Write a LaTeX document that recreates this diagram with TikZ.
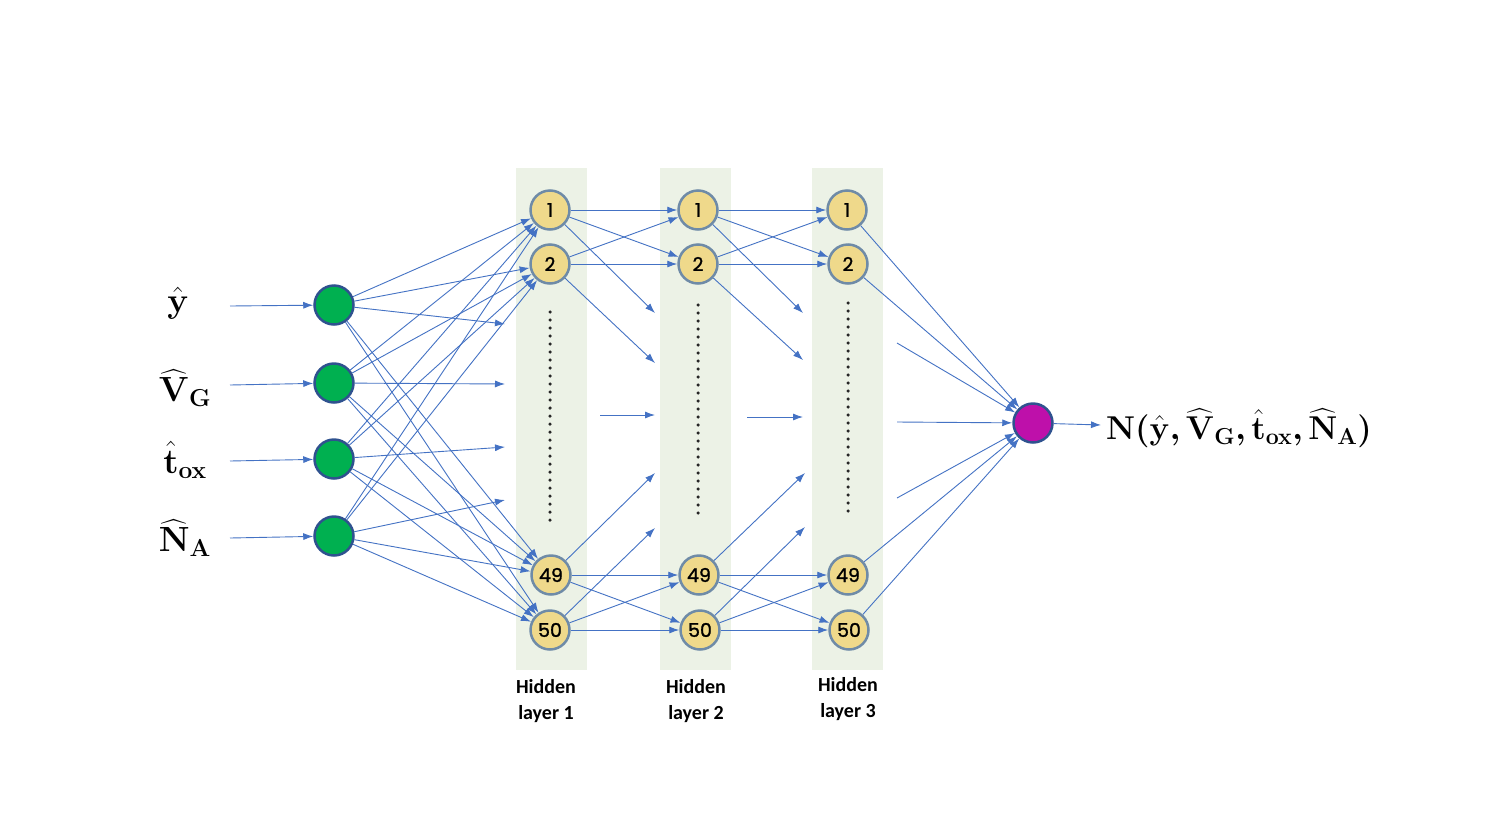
\documentclass[tikz,border=0pt]{standalone}
\usepackage{fix-cm}
\usepackage{amsmath,bm}
\usepackage{fontspec}
\newfontfamily\numfont[FakeBold=1.2]{Poppins}
\newfontfamily\labfont{Carlito}
\usetikzlibrary{arrows.meta}
\definecolor{edgeblue}{HTML}{4472C4}
\definecolor{ingreen}{HTML}{00B050}
\definecolor{inborder}{HTML}{2F528F}
\definecolor{hidfill}{HTML}{EFD98B}
\definecolor{hidborder}{HTML}{6F8BA7}
\definecolor{outmag}{HTML}{BE10AA}
\definecolor{colbg}{HTML}{ECF2E6}
\pgfdeclarelayer{bg}
\pgfdeclarelayer{edges}
\pgfsetlayers{bg,edges,main}
\tikzset{
  inp/.style={circle, minimum size=39pt, inner sep=0pt, fill=ingreen, draw=inborder, line width=2.5pt},
  outp/.style={circle, minimum size=39pt, inner sep=0pt, fill=outmag, draw=inborder, line width=2.5pt},
  hid/.style={circle, minimum size=39pt, inner sep=0pt, fill=hidfill, draw=hidborder, line width=2.5pt, font=\numfont\fontsize{19}{19}\selectfont},
  conn/.style={draw=edgeblue, line width=0.9pt, -{Latex[length=10pt,width=7pt]}},
  colbox/.style={fill=colbg, draw=none},
  dotcol/.style={line width=3.5pt, line cap=round, dash pattern=on 0pt off 8pt, draw=black!85},
  mathlab/.style={font=\fontsize{35}{40}\selectfont, inner sep=0pt},
  hlab/.style={font=\labfont\bfseries\fontsize{20}{26}\selectfont, align=center, inner sep=0pt}
}
\begin{document}
\begin{tikzpicture}[x=1pt,y=-1pt]
\useasboundingbox (0,0) rectangle (1512,833);
\begin{pgfonlayer}{bg}
\fill[white] (0,0) rectangle (1512,833);
\path[colbox] (516,168) rectangle (587,670);
\path[colbox] (660,168) rectangle (731,670);
\path[colbox] (812,168) rectangle (883,670);
\end{pgfonlayer}
% dots
\draw[dotcol] (550,312) -- (550,520);
\draw[dotcol] (698,305) -- (698,515);
\draw[dotcol] (848,303) -- (848,512);
% input nodes
\node[inp] (i1) at (334,305) {};
\node[inp] (i2) at (334,383) {};
\node[inp] (i3) at (334,459) {};
\node[inp] (i4) at (334,536) {};
% hidden layer 1
\node[hid] (a1) at (550,210) {1};
\node[hid] (a2) at (550,264) {2};
\node[hid] (a3) at (551,575) {49};
\node[hid] (a4) at (550,630) {50};
% hidden layer 2
\node[hid] (b1) at (698,210) {1};
\node[hid] (b2) at (698,264) {2};
\node[hid] (b3) at (699,575) {49};
\node[hid] (b4) at (700,630) {50};
% hidden layer 3
\node[hid] (c1) at (847,210) {1};
\node[hid] (c2) at (848,264) {2};
\node[hid] (c3) at (848,575) {49};
\node[hid] (c4) at (849,630) {50};
% output
\node[outp] (o) at (1033,423) {};
% labels
\node[mathlab] (ly) at (178,303) {$\bm{\hat{\mathbf{y}}}$};
\node[mathlab] (lv) at (185,388) {$\bm{\widehat{\mathbf{V}}_{\mathbf{G}}}$};
\node[mathlab] (lt) at (185,460) {$\bm{\hat{\mathbf{t}}_{\mathbf{ox}}}$};
\node[mathlab] (ln) at (185,538) {$\bm{\widehat{\mathbf{N}}_{\mathbf{A}}}$};
\node[mathlab, anchor=west, font=\fontsize{33}{40}\selectfont] (lo) at (1106,428) {$\bm{\mathbf{N}(\hat{\mathbf{y}},\widehat{\mathbf{V}}_{\mathbf{G}},\hat{\mathbf{t}}_{\mathbf{ox}},\widehat{\mathbf{N}}_{\mathbf{A}})}$};
\node[hlab] (h1) at (546,701) {Hidden\\layer 1};
\node[hlab] (h2) at (696,701) {Hidden\\layer 2};
\node[hlab] (h3) at (848,699) {Hidden\\layer 3};
% coordinates
\coordinate (s1) at (230,306);
\coordinate (s2) at (230,385);
\coordinate (s3) at (230,461);
\coordinate (s4) at (230,538);
\coordinate (d1) at (505,324);
\coordinate (d2) at (505,384);
\coordinate (d3) at (505,447);
\coordinate (d4) at (505,500);
\coordinate (e1) at (655,313);
\coordinate (e2) at (655,363);
\coordinate (e3s) at (600,415);
\coordinate (e3) at (655,415);
\coordinate (e4) at (655,473);
\coordinate (e5) at (655,528);
\coordinate (f1) at (803,313);
\coordinate (f2) at (803,360);
\coordinate (f3s) at (747,417);
\coordinate (f3) at (803,417);
\coordinate (f4) at (805,473);
\coordinate (f5) at (805,527);
\coordinate (g1) at (897,343);
\coordinate (g2) at (897,422);
\coordinate (g3) at (897,498);
\coordinate (oe) at (1101,425);
\begin{pgfonlayer}{edges}
% input arrows
\draw[conn] (s1) -- (i1);
\draw[conn] (s2) -- (i2);
\draw[conn] (s3) -- (i3);
\draw[conn] (s4) -- (i4);
% input -> layer 1
\foreach \i/\d in {i1/d1,i2/d2,i3/d3,i4/d4}{
  \draw[conn] (\i) -- (a1);
  \draw[conn] (\i) -- (a2);
  \draw[conn] (\i) -- (a3);
  \draw[conn] (\i) -- (a4);
  \draw[conn] (\i) -- (\d);
}
% layer 1 -> layer 2
\draw[conn] (a1) -- (b1);
\draw[conn] (a1) -- (b2);
\draw[conn] (a2) -- (b1);
\draw[conn] (a2) -- (b2);
\draw[conn] (a3) -- (b3);
\draw[conn] (a3) -- (b4);
\draw[conn] (a4) -- (b3);
\draw[conn] (a4) -- (b4);
\draw[conn] (a1) -- (e1);
\draw[conn] (a2) -- (e2);
\draw[conn] (e3s) -- (e3);
\draw[conn] (a3) -- (e4);
\draw[conn] (a4) -- (e5);
% layer 2 -> layer 3
\draw[conn] (b1) -- (c1);
\draw[conn] (b1) -- (c2);
\draw[conn] (b2) -- (c1);
\draw[conn] (b2) -- (c2);
\draw[conn] (b3) -- (c3);
\draw[conn] (b3) -- (c4);
\draw[conn] (b4) -- (c3);
\draw[conn] (b4) -- (c4);
\draw[conn] (b1) -- (f1);
\draw[conn] (b2) -- (f2);
\draw[conn] (f3s) -- (f3);
\draw[conn] (b3) -- (f4);
\draw[conn] (b4) -- (f5);
% layer 3 -> output
\draw[conn] (c1) -- (o);
\draw[conn] (c2) -- (o);
\draw[conn] (g1) -- (o);
\draw[conn] (g2) -- (o);
\draw[conn] (g3) -- (o);
\draw[conn] (c3) -- (o);
\draw[conn] (c4) -- (o);
\draw[conn] (o) -- (oe);
\end{pgfonlayer}
\end{tikzpicture}
\end{document}
